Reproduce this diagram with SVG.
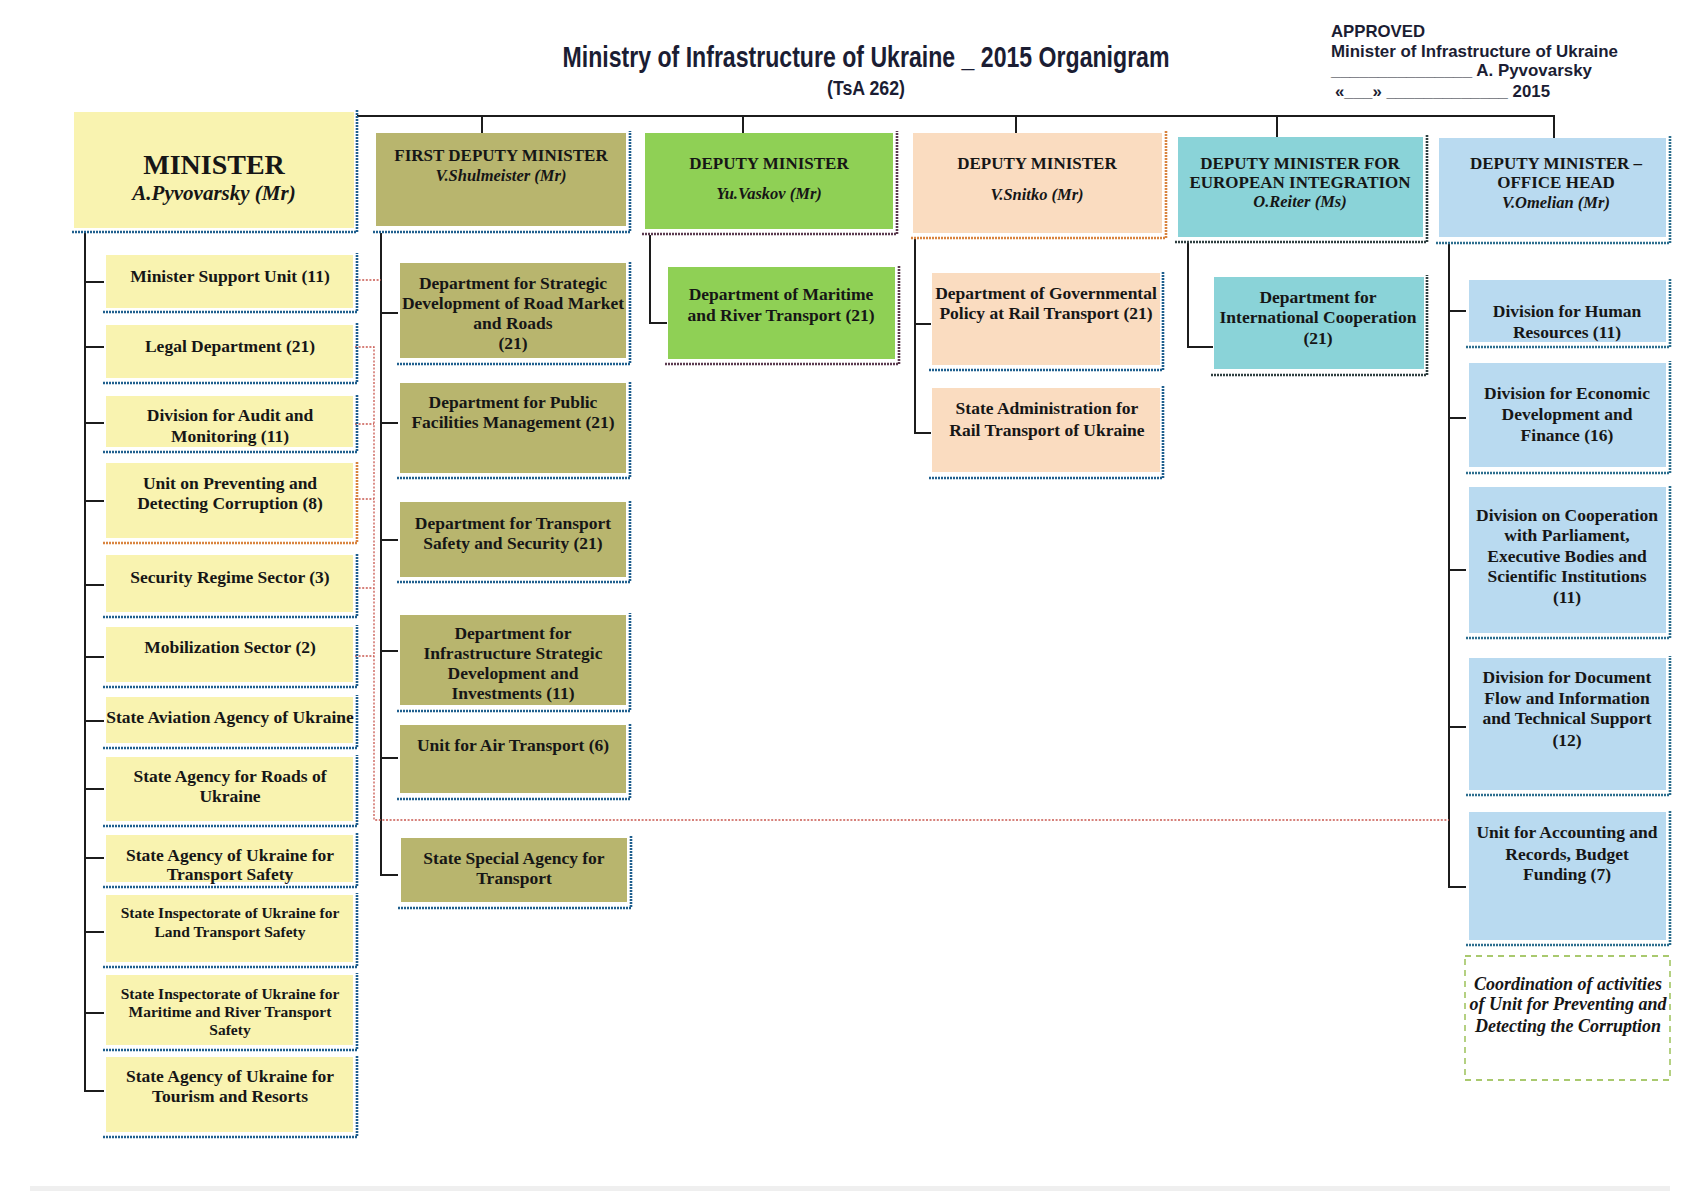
<svg xmlns="http://www.w3.org/2000/svg" width="1699" height="1192" viewBox="0 0 1699 1192">
<defs>
<style>
.t{font-family:"Liberation Serif","Times New Roman",serif;font-weight:bold;font-size:17.5px;fill:#161616;text-anchor:middle}
.h{font-size:17px}
.n{font-style:italic;font-size:16.5px}
.s{font-size:15.5px}
.big{font-size:28px}
.bign{font-size:21px}
.co{font-size:18px}
.hd{font-family:"Liberation Sans Narrow","Liberation Sans",Arial,sans-serif;font-weight:bold;fill:#1b1d33}
.conn{stroke:#1c1c1c;stroke-width:2;fill:none}
.red{stroke:#c9574f;stroke-width:1.3;stroke-dasharray:2 1.6;fill:none}
.bd{stroke:#1f5f8e;stroke-width:2.6;stroke-dasharray:2 1;fill:none}
.bdo{stroke:#d9843f;stroke-width:2.6;stroke-dasharray:2 1;fill:none}
.bdb{stroke:#5b3a4f;stroke-width:2.6;stroke-dasharray:2 1;fill:none}
.bdk{stroke:#2f3f40;stroke-width:2.6;stroke-dasharray:2 1;fill:none}
.bdt{stroke:#2c6e8e;stroke-width:2.6;stroke-dasharray:2 1;fill:none}
.y{fill:#f9f3b0}.o{fill:#b8b56e}.g{fill:#8fd055}.p{fill:#fadcc0}.c{fill:#8ad3d8}.b{fill:#b9daf0}
</style>
</defs>
<rect width="1699" height="1192" fill="#ffffff"/>
<rect x="30" y="1186" width="1640" height="5" fill="#efefef"/>

<g id="header">
<text class="hd" x="866" y="67" font-size="30" text-anchor="middle" textLength="607" lengthAdjust="spacingAndGlyphs">Ministry of Infrastructure of Ukraine _ 2015 Organigram</text>
<text class="hd" x="866" y="95" font-size="20" text-anchor="middle" textLength="78" lengthAdjust="spacingAndGlyphs">(TsA 262)</text>
<text class="hd" x="1331" y="37" font-size="17" textLength="94" lengthAdjust="spacingAndGlyphs">APPROVED</text>
<text class="hd" x="1331" y="57" font-size="17" textLength="287" lengthAdjust="spacingAndGlyphs">Minister of Infrastructure of Ukraine</text>
<text class="hd" x="1331" y="76" font-size="17" textLength="261" lengthAdjust="spacingAndGlyphs">_______________ A. Pyvovarsky</text>
<text class="hd" x="1335" y="97" font-size="17" textLength="215" lengthAdjust="spacingAndGlyphs">«___» _____________ 2015</text>
</g>

<g id="connectors">
<path class="conn" d="M357 116 H1554 V138 M482 116 V133 M743 116 V133 M1016 116 V133 M1277 116 V137"/>
<path class="conn" d="M85 233 V1091 H104 M85 282 H104 M85 347 H104 M85 423 H104 M85 501 H104 M85 585 H104 M85 657 H104 M85 721 H104 M85 789 H104 M85 858 H104 M85 932 H104 M85 1013 H104"/>
<path class="conn" d="M381 233 V875 H398 M381 313 H398 M381 423 H398 M381 540 H398 M381 651 H398 M381 758 H398"/>
<path class="conn" d="M650 235 V323 H667"/>
<path class="conn" d="M915 239 V433 H931 M915 324 H931"/>
<path class="conn" d="M1188 242 V347 H1213"/>
<path class="conn" d="M1449 243 V887 H1466 M1449 311 H1466 M1449 418 H1466 M1449 570 H1466 M1449 727 H1466"/>
<path class="red" d="M355 280 H381 M355 347 H374 V820 H1449 M355 424 H374 M355 499 H374 M355 588 H374 M355 656 H374"/>
</g>

<g id="minister">
<rect class="y" x="74" y="112" width="280" height="116"/>
<path class="bd" d="M72 232 H357 V110"/>
<text class="t big" x="214" y="174">MINISTER</text>
<text class="t n bign" x="214" y="200">A.Pyvovarsky (Mr)</text>
</g>

<g id="minister-support-unit">
<rect class="y" x="106" y="255" width="247" height="53"/>
<path class="bd" d="M103 312 H357 V253"/>
<text class="t" x="230" y="282">Minister Support Unit (11)</text>
</g>
<g id="legal-department">
<rect class="y" x="106" y="325" width="247" height="53"/>
<path class="bd" d="M103 383 H357 V323"/>
<text class="t" x="230" y="352">Legal Department (21)</text>
</g>
<g id="audit-division">
<rect class="y" x="106" y="396" width="247" height="51"/>
<path class="bd" d="M103 452 H357 V394"/>
<text class="t" x="230" y="421">Division for Audit and</text>
<text class="t" x="230" y="442">Monitoring (11)</text>
</g>
<g id="corruption-unit">
<rect class="y" x="106" y="463" width="247" height="75"/>
<path class="bdo" d="M103 543 H357 V461"/>
<text class="t" x="230" y="489">Unit on Preventing and</text>
<text class="t" x="230" y="509">Detecting Corruption (8)</text>
</g>
<g id="security-regime">
<rect class="y" x="106" y="555" width="247" height="57"/>
<path class="bd" d="M103 617 H357 V553"/>
<text class="t" x="230" y="583">Security Regime Sector (3)</text>
</g>
<g id="mobilization">
<rect class="y" x="106" y="627" width="247" height="55"/>
<path class="bd" d="M103 687 H357 V625"/>
<text class="t" x="230" y="653">Mobilization Sector (2)</text>
</g>
<g id="aviation-agency">
<rect class="y" x="106" y="697" width="247" height="46"/>
<path class="bd" d="M103 748 H357 V695"/>
<text class="t" x="230" y="723">State Aviation Agency of Ukraine</text>
</g>
<g id="roads-agency">
<rect class="y" x="106" y="757" width="247" height="64"/>
<path class="bd" d="M103 826 H357 V755"/>
<text class="t" x="230" y="782">State Agency for Roads of</text>
<text class="t" x="230" y="802">Ukraine</text>
</g>
<g id="transport-safety-agency">
<rect class="y" x="106" y="835" width="247" height="47"/>
<path class="bd" d="M103 887 H357 V833"/>
<text class="t" x="230" y="861">State Agency of Ukraine for</text>
<text class="t" x="230" y="880">Transport Safety</text>
</g>
<g id="land-inspectorate">
<rect class="y" x="106" y="895" width="247" height="67"/>
<path class="bd" d="M103 967 H357 V893"/>
<text class="t s" x="230" y="918">State Inspectorate of Ukraine for</text>
<text class="t s" x="230" y="937">Land Transport Safety</text>
</g>
<g id="maritime-inspectorate">
<rect class="y" x="106" y="975" width="247" height="70"/>
<path class="bd" d="M103 1050 H357 V973"/>
<text class="t s" x="230" y="999">State Inspectorate of Ukraine for</text>
<text class="t s" x="230" y="1017">Maritime and River Transport</text>
<text class="t s" x="230" y="1035">Safety</text>
</g>
<g id="tourism-agency">
<rect class="y" x="106" y="1057" width="247" height="75"/>
<path class="bd" d="M103 1137 H357 V1055"/>
<text class="t" x="230" y="1082">State Agency of Ukraine for</text>
<text class="t" x="230" y="1102">Tourism and Resorts</text>
</g>

<g id="first-deputy">
<rect class="o" x="376" y="133" width="250" height="93"/>
<path class="bd" d="M373 232 H630 V131"/>
<text class="t h" x="501" y="161">FIRST DEPUTY MINISTER</text>
<text class="t n" x="501" y="181">V.Shulmeister (Mr)</text>
</g>
<g id="road-market-dept">
<rect class="o" x="400" y="263" width="226" height="95"/>
<path class="bd" d="M397 364 H630 V261"/>
<text class="t" x="513" y="289">Department for Strategic</text>
<text class="t" x="513" y="309">Development of Road Market</text>
<text class="t" x="513" y="329">and Roads</text>
<text class="t" x="513" y="349">(21)</text>
</g>
<g id="public-facilities-dept">
<rect class="o" x="400" y="383" width="226" height="90"/>
<path class="bd" d="M397 478 H630 V381"/>
<text class="t" x="513" y="408">Department for Public</text>
<text class="t" x="513" y="428">Facilities Management (21)</text>
</g>
<g id="transport-safety-dept">
<rect class="o" x="400" y="502" width="226" height="75"/>
<path class="bd" d="M397 582 H630 V500"/>
<text class="t" x="513" y="529">Department for Transport</text>
<text class="t" x="513" y="549">Safety and Security (21)</text>
</g>
<g id="infrastructure-dept">
<rect class="o" x="400" y="615" width="226" height="90"/>
<path class="bd" d="M397 711 H630 V613"/>
<text class="t" x="513" y="639">Department for</text>
<text class="t" x="513" y="659">Infrastructure Strategic</text>
<text class="t" x="513" y="679">Development and</text>
<text class="t" x="513" y="699">Investments (11)</text>
</g>
<g id="air-transport-unit">
<rect class="o" x="400" y="725" width="226" height="68"/>
<path class="bd" d="M397 799 H630 V723"/>
<text class="t" x="513" y="751">Unit for Air Transport (6)</text>
</g>
<g id="special-agency">
<rect class="o" x="401" y="838" width="226" height="64"/>
<path class="bd" d="M398 908 H631 V836"/>
<text class="t" x="514" y="864">State Special Agency for</text>
<text class="t" x="514" y="884">Transport</text>
</g>

<g id="deputy-vaskov">
<rect class="g" x="645" y="133" width="248" height="96"/>
<path class="bdb" d="M642 234 H897 V131"/>
<text class="t h" x="769" y="169">DEPUTY MINISTER</text>
<text class="t n" x="769" y="199">Yu.Vaskov (Mr)</text>
</g>
<g id="maritime-dept">
<rect class="g" x="668" y="267" width="227" height="92"/>
<path class="bdb" d="M665 364 H899 V265"/>
<text class="t" x="781" y="300">Department of Maritime</text>
<text class="t" x="781" y="321">and River Transport (21)</text>
</g>

<g id="deputy-snitko">
<rect class="p" x="913" y="133" width="249" height="100"/>
<path class="bdo" d="M911 238 H1166 V131"/>
<text class="t h" x="1037" y="169">DEPUTY MINISTER</text>
<text class="t n" x="1037" y="200">V.Snitko (Mr)</text>
</g>
<g id="rail-policy-dept">
<rect class="p" x="932" y="273" width="228" height="92"/>
<path class="bd" d="M929 370 H1163 V271"/>
<text class="t" x="1046" y="299">Department of Governmental</text>
<text class="t" x="1046" y="319">Policy at Rail Transport (21)</text>
</g>
<g id="rail-administration">
<rect class="p" x="932" y="388" width="228" height="84"/>
<path class="bd" d="M929 478 H1163 V386"/>
<text class="t" x="1047" y="414">State Administration for</text>
<text class="t" x="1047" y="436">Rail Transport of Ukraine</text>
</g>

<g id="deputy-reiter">
<rect class="c" x="1178" y="137" width="245" height="100"/>
<path class="bdk" d="M1175 242 H1427 V135"/>
<text class="t h" x="1300" y="169">DEPUTY MINISTER FOR</text>
<text class="t h" x="1300" y="188">EUROPEAN INTEGRATION</text>
<text class="t n" x="1300" y="207">O.Reiter (Ms)</text>
</g>
<g id="international-dept">
<rect class="c" x="1214" y="277" width="210" height="92"/>
<path class="bdk" d="M1211 375 H1427 V275"/>
<text class="t" x="1318" y="303">Department for</text>
<text class="t" x="1318" y="323">International Cooperation</text>
<text class="t" x="1318" y="344">(21)</text>
</g>

<g id="deputy-omelian">
<rect class="b" x="1439" y="138" width="227" height="99"/>
<path class="bdt" d="M1436 243 H1670 V136"/>
<text class="t h" x="1556" y="169">DEPUTY MINISTER –</text>
<text class="t h" x="1556" y="188">OFFICE HEAD</text>
<text class="t n" x="1556" y="208">V.Omelian (Mr)</text>
</g>
<g id="hr-division">
<rect class="b" x="1469" y="280" width="197" height="62"/>
<path class="bdt" d="M1466 347 H1670 V278"/>
<text class="t" x="1567" y="317">Division for Human</text>
<text class="t" x="1567" y="338">Resources (11)</text>
</g>
<g id="economic-division">
<rect class="b" x="1469" y="363" width="197" height="104"/>
<path class="bdt" d="M1466 473 H1670 V361"/>
<text class="t" x="1567" y="399">Division for Economic</text>
<text class="t" x="1567" y="420">Development and</text>
<text class="t" x="1567" y="441">Finance (16)</text>
</g>
<g id="cooperation-division">
<rect class="b" x="1469" y="487" width="197" height="146"/>
<path class="bdt" d="M1466 638 H1670 V485"/>
<text class="t" x="1567" y="521">Division on Cooperation</text>
<text class="t" x="1567" y="541">with Parliament,</text>
<text class="t" x="1567" y="562">Executive Bodies and</text>
<text class="t" x="1567" y="582">Scientific Institutions</text>
<text class="t" x="1567" y="603">(11)</text>
</g>
<g id="document-division">
<rect class="b" x="1469" y="658" width="197" height="132"/>
<path class="bdt" d="M1466 795 H1670 V656"/>
<text class="t" x="1567" y="683">Division for Document</text>
<text class="t" x="1567" y="704">Flow and Information</text>
<text class="t" x="1567" y="724">and Technical Support</text>
<text class="t" x="1567" y="746">(12)</text>
</g>
<g id="accounting-unit">
<rect class="b" x="1469" y="812" width="197" height="128"/>
<path class="bdt" d="M1466 945 H1670 V810"/>
<text class="t" x="1567" y="838">Unit for Accounting and</text>
<text class="t" x="1567" y="860">Records, Budget</text>
<text class="t" x="1567" y="880">Funding (7)</text>
</g>
<g id="coordination-note">
<rect x="1465" y="956" width="205" height="124" fill="none" stroke="#8db83f" stroke-width="1.3" stroke-dasharray="6 5"/>
<text class="t n co" x="1568" y="990">Coordination of activities</text>
<text class="t n co" x="1568" y="1010">of Unit for Preventing and</text>
<text class="t n co" x="1568" y="1032">Detecting the Corruption</text>
</g>
</svg>
